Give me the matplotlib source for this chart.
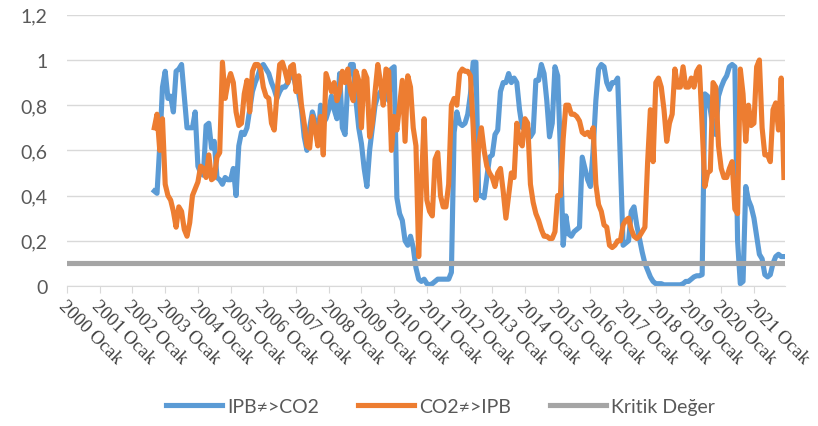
import numpy as np
import matplotlib
matplotlib.use("Agg")
import matplotlib.pyplot as plt

# monthly series, first value = 2002 Eylul (month index 32 counted from 2000 Ocak)
start_month = 32
ipb_co2 = [
    0.42, 0.41, 0.62, 0.88, 0.95, 0.83, 0.84, 0.77, 0.95, 0.96, 0.98, 0.84,
    0.70, 0.70, 0.70, 0.77, 0.53, 0.50, 0.49, 0.71, 0.72, 0.61, 0.64, 0.48,
    0.47, 0.45, 0.48, 0.47, 0.47, 0.52, 0.40, 0.62, 0.68, 0.67, 0.70, 0.78,
    0.86, 0.90, 0.93, 0.97, 0.98, 0.96, 0.94, 0.90, 0.87, 0.83, 0.86, 0.88,
    0.88, 0.90, 0.94, 0.93, 0.88, 0.85, 0.78, 0.66, 0.60, 0.70, 0.77, 0.73,
    0.63, 0.80, 0.72, 0.74, 0.78, 0.84, 0.78, 0.74, 0.94, 0.70, 0.67, 0.90,
    0.98, 0.98, 0.82, 0.70, 0.63, 0.52, 0.44, 0.60, 0.70, 0.80, 0.84, 0.86,
    0.87, 0.85, 0.82, 0.96, 0.97, 0.39, 0.32, 0.29, 0.20, 0.18, 0.22, 0.17,
    0.08, 0.03, 0.02, 0.03, 0.01, 0.005, 0.01, 0.02, 0.03, 0.03, 0.03, 0.03,
    0.03, 0.06, 0.68, 0.77, 0.72, 0.71, 0.72, 0.76, 0.85, 0.99, 0.99, 0.40,
    0.40, 0.39, 0.48, 0.57, 0.58, 0.67, 0.69, 0.86, 0.90, 0.90, 0.94, 0.90,
    0.92, 0.90, 0.78, 0.70, 0.72, 0.70, 0.66, 0.68, 0.91, 0.91, 0.98, 0.94,
    0.82, 0.66, 0.72, 0.97, 0.93, 0.60, 0.18, 0.31, 0.23, 0.22, 0.24, 0.25,
    0.26, 0.57, 0.52, 0.47, 0.44, 0.60, 0.82, 0.96, 0.98, 0.97, 0.90, 0.87,
    0.90, 0.90, 0.92, 0.55, 0.18, 0.19, 0.20, 0.33, 0.35, 0.27, 0.21, 0.15,
    0.10, 0.07, 0.04, 0.02, 0.01, 0.01, 0.01, 0.005, 0.005, 0.005, 0.005, 0.005,
    0.005, 0.005, 0.01, 0.02, 0.02, 0.03, 0.04, 0.045, 0.045, 0.05, 0.85, 0.84,
    0.78, 0.70, 0.67, 0.84, 0.88, 0.91, 0.93, 0.97, 0.98, 0.97, 0.20, 0.01,
    0.02, 0.44, 0.38, 0.35, 0.30, 0.22, 0.14, 0.12, 0.05, 0.04, 0.05, 0.10,
    0.13, 0.14, 0.13, 0.13,
]
co2_ipb = [
    0.70, 0.76, 0.60, 0.74, 0.45, 0.40, 0.38, 0.33, 0.26, 0.35, 0.33, 0.25,
    0.22, 0.28, 0.40, 0.43, 0.46, 0.53, 0.52, 0.48, 0.58, 0.47, 0.48, 0.57,
    0.59, 0.99, 0.83, 0.90, 0.94, 0.90, 0.77, 0.71, 0.72, 0.85, 0.91, 0.77,
    0.95, 0.98, 0.98, 0.96, 0.88, 0.84, 0.83, 0.72, 0.69, 0.85, 0.98, 0.99,
    0.95, 0.90, 0.97, 0.98, 0.86, 0.93, 0.80, 0.72, 0.62, 0.61, 0.75, 0.70,
    0.62, 0.75, 0.58, 0.94, 0.90, 0.86, 0.90, 0.82, 0.86, 0.95, 0.90, 0.96,
    0.86, 0.82, 0.95, 0.91, 0.70, 0.95, 0.92, 0.66, 0.72, 0.86, 0.98, 0.90,
    0.80, 0.96, 0.95, 0.60, 0.75, 0.69, 0.80, 0.91, 0.64, 0.93, 0.88, 0.70,
    0.62, 0.13, 0.45, 0.74, 0.38, 0.33, 0.31, 0.56, 0.59, 0.40, 0.35, 0.35,
    0.45, 0.80, 0.83, 0.80, 0.94, 0.96, 0.95, 0.95, 0.93, 0.70, 0.38, 0.62,
    0.70, 0.60, 0.53, 0.50, 0.48, 0.44, 0.50, 0.52, 0.42, 0.30, 0.40, 0.50,
    0.48, 0.72, 0.64, 0.62, 0.74, 0.72, 0.45, 0.37, 0.32, 0.29, 0.25, 0.22,
    0.22, 0.21, 0.21, 0.24, 0.40, 0.40, 0.65, 0.80, 0.80, 0.76, 0.76, 0.75,
    0.73, 0.68, 0.67, 0.68, 0.66, 0.70, 0.45, 0.36, 0.33, 0.27, 0.26, 0.18,
    0.17, 0.18, 0.20, 0.20, 0.27, 0.29, 0.30, 0.25, 0.22, 0.21, 0.22, 0.24,
    0.26, 0.55, 0.78, 0.55, 0.90, 0.92, 0.88, 0.78, 0.64, 0.72, 0.76, 0.96,
    0.88, 0.88, 0.97, 0.88, 0.88, 0.92, 0.88, 0.95, 0.97, 0.70, 0.44, 0.50,
    0.51, 0.90, 0.88, 0.62, 0.52, 0.48, 0.48, 0.52, 0.55, 0.34, 0.32, 0.96,
    0.85, 0.64, 0.80, 0.71, 0.72, 0.97, 1.00, 0.70, 0.58, 0.58, 0.55, 0.78,
    0.81, 0.69, 0.92, 0.48,
]
kritik_deger = 0.1
years = list(range(2000, 2022))
n_months = 264

yticks = [0, 0.2, 0.4, 0.6, 0.8, 1.0, 1.2]
ytick_labels = ["0", "0,2", "0,4", "0,6", "0,8", "1", "1,2"]

sans = ["Lato", "DejaVu Sans"]

fig = plt.figure(figsize=(8.18, 4.27), dpi=100)
ax = fig.add_axes([0.082, 0.328, 0.878, 0.635])

m = np.arange(start_month, start_month + len(ipb_co2))
all_m = np.arange(0, n_months)

ax.plot(m, ipb_co2, color="#5B9BD5", lw=3.7, label="IPB≠>CO2", solid_joinstyle="round")
ax.plot(m, co2_ipb, color="#ED7D31", lw=3.7, label="CO2≠>IPB", solid_joinstyle="round")
ax.plot(all_m, [kritik_deger] * n_months, color="#A5A5A5", lw=3.7, label="Kritik Değer")

ax.set_xlim(0, 263.5)
ax.set_ylim(0, 1.2)

ax.set_yticks(yticks)
ax.set_yticklabels(ytick_labels, family=sans, fontsize=14, color="#595959")
ax.tick_params(axis="y", length=0, pad=14)

ax.set_xticks([12 * (y - 2000) for y in years])
ax.set_xticklabels([f"{y} Ocak" for y in years], rotation=-45, ha="left", va="top",
                   rotation_mode="anchor", family="Liberation Serif", fontsize=13.5,
                   color="#404040")
ax.tick_params(axis="x", length=5, color="#D9D9D9", pad=3)

ax.yaxis.grid(True, color="#D9D9D9", lw=1)
ax.set_axisbelow(True)
for s in ["top", "right", "left"]:
    ax.spines[s].set_visible(False)
ax.spines["bottom"].set_color("#D9D9D9")

fig.legend(loc="center", bbox_to_anchor=(0.538, 0.045), ncol=3, frameon=False,
           prop={"family": sans, "size": 14}, handlelength=2.9, handletextpad=0.25,
           columnspacing=2.0, labelcolor="#595959")

fig.savefig("out.png", dpi=100)
